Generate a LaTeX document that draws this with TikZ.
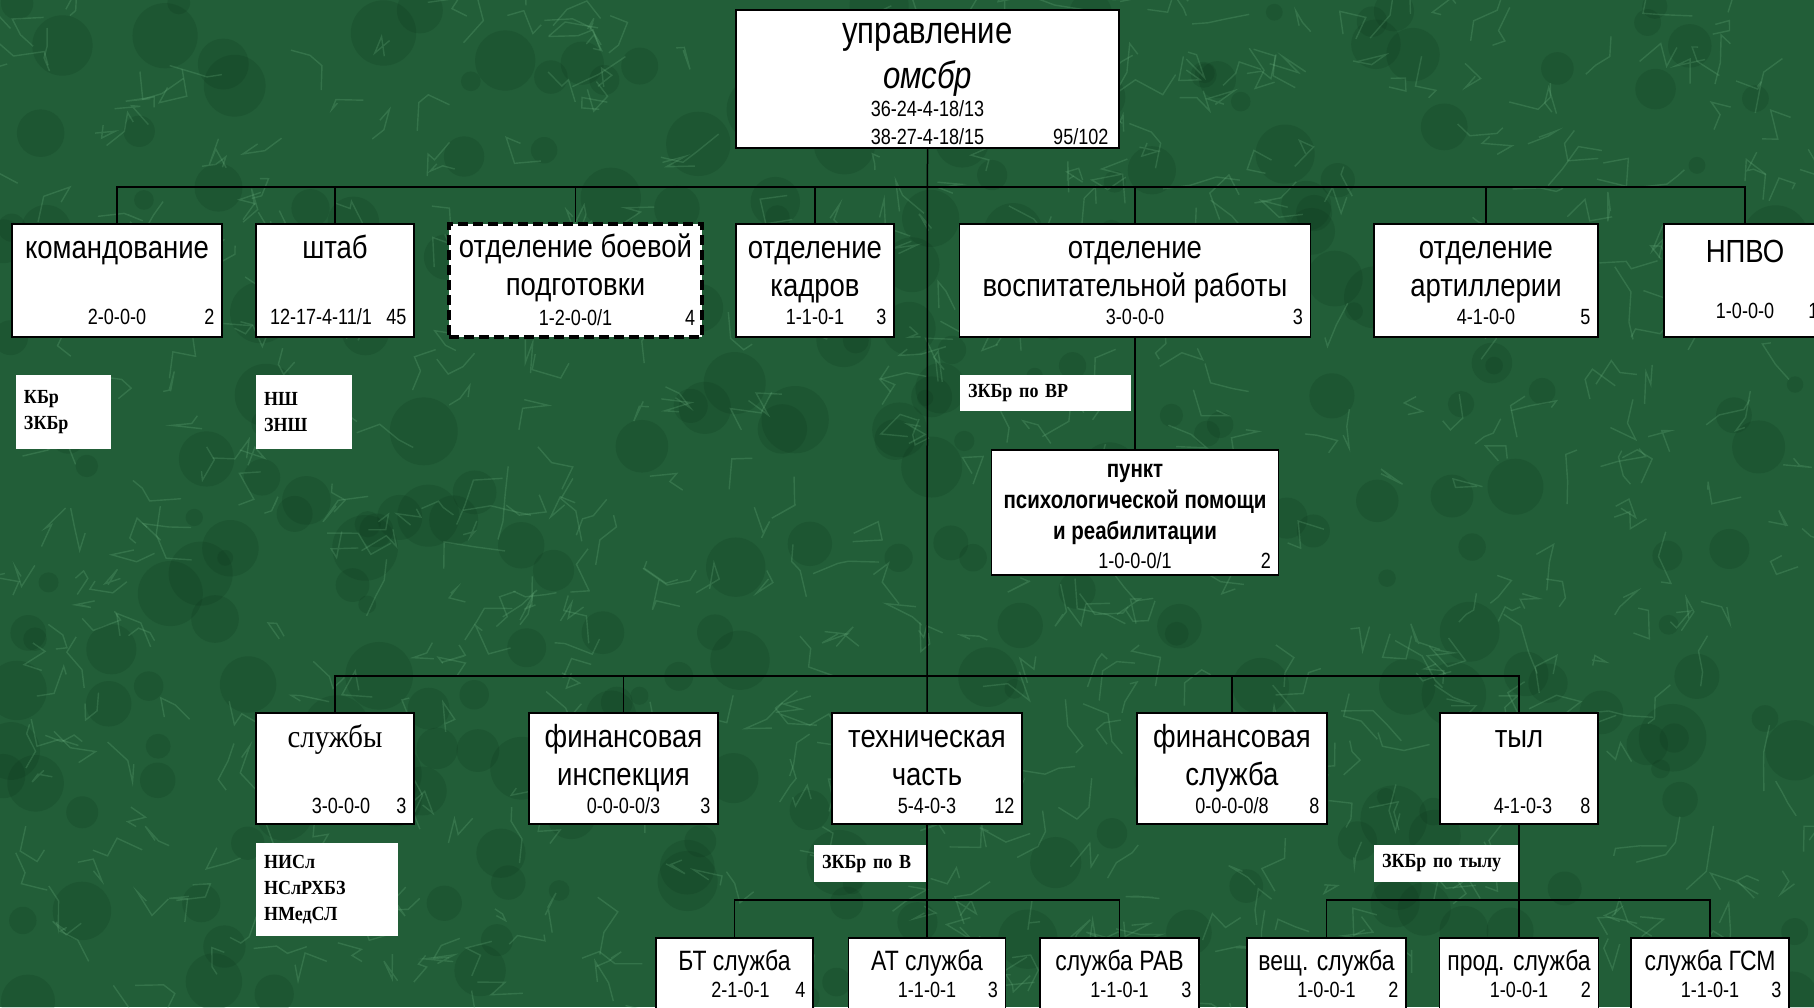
\documentclass[tikz,border=0pt]{standalone}
\usepackage{fontspec}
\setmainfont{Liberation Sans}[FakeStretch=0.82]
\newfontfamily\headfont{Liberation Sans}[FakeStretch=0.86]
\newfontfamily\tagfont{Liberation Serif}[FakeStretch=0.9]

\definecolor{marble}{RGB}{34,94,56}
\definecolor{vein}{RGB}{120,190,140}
\definecolor{dusk}{RGB}{10,48,24}

\tikzset{
  unit/.style={draw, line width=0.8pt, fill=white, inner sep=0pt},
  drill/.style={unit, dashed, line width=1.6pt, dash pattern=on 5pt off 2.5pt},
  ttl/.style={anchor=north, yshift=-3.9pt, inner sep=0pt, align=center,
    font=\headfont\fontsize{16}{19}\selectfont},
  ttlsm/.style={ttl, yshift=-0.5pt, font=\fontsize{14}{17}\selectfont},
  num/.style={anchor=base, yshift=6.5pt, inner sep=0pt, font=\fontsize{11}{13}\selectfont},
  cnt/.style={num, anchor=base east, xshift=-4pt},
  tag/.style={fill=white, inner xsep=4pt, inner ysep=0pt, align=left,
    font=\tagfont\bfseries\fontsize{10}{13}\selectfont},
  link/.style={line width=0.75pt},
}

\begin{document}
\begin{tikzpicture}[x=0.5pt, y=-0.5pt]
\useasboundingbox (0,0) rectangle (1814,1007);
\clip (0,0) rectangle (1814,1007);

% marble background
\fill[marble] (0,0) rectangle (1814,1007);
\pgfmathsetseed{11}
\foreach \i in {1,...,280}
  \fill[dusk, opacity=0.17] (rnd*1814, rnd*1007) circle (8+rnd*26);
\foreach \i in {1,...,620}
  \draw[vein, opacity=0.22, line width=0.7pt] (rnd*1814, rnd*1007)
    -- ++(rnd*360:6+rnd*26) -- ++(rnd*360:6+rnd*26) -- ++(rnd*360:6+rnd*26);

% head
\node[unit, minimum width=191.5pt, minimum height=69pt,
  label={[ttl, font=\fontsize{19}{22.5}\selectfont, yshift=2.7pt]north:\strut управление\\\textit{омсбр}},
  label={[num, yshift=9.5pt]south:36-24-4-18/13},
  label={[num, yshift=-4.5pt]south:38-27-4-18/15},
  label={[cnt, yshift=-4.5pt, xshift=-1.5pt]south east:95/102}] (upr) at (927.5,79) {};

% first row
\node[unit, minimum width=105pt, minimum height=56.5pt,
  label={[ttl]north:\strut командование},
  label={[num]south:2-0-0-0}, label={[cnt]south east:2}] (cmd) at (117,280.5) {};
\node[unit, minimum width=79pt, minimum height=56.5pt,
  label={[ttl]north:\strut штаб},
  label={[num, xshift=-7pt]south:12-17-4-11/1}, label={[cnt]south east:45}] (staff) at (335,280.5) {};
\node[drill, minimum width=126.5pt, minimum height=56.5pt,
  label={[ttl]north:\strut отделение боевой\\подготовки},
  label={[num]south:1-2-0-0/1}, label={[cnt]south east:4}] (train) at (575.5,280.5) {};
\node[unit, minimum width=79pt, minimum height=56.5pt,
  label={[ttl]north:\strut отделение\\кадров},
  label={[num]south:1-1-0-1}, label={[cnt]south east:3}] (pers) at (815,280.5) {};
\node[unit, minimum width=175.5pt, minimum height=56.5pt,
  label={[ttl]north:\strut отделение\\воспитательной работы},
  label={[num]south:3-0-0-0}, label={[cnt]south east:3}] (educ) at (1135,280.5) {};
\node[unit, minimum width=112pt, minimum height=56.5pt,
  label={[ttl]north:\strut отделение\\артиллерии},
  label={[num]south:4-1-0-0}, label={[cnt]south east:5}] (art) at (1486,280.5) {};
\node[unit, minimum width=81pt, minimum height=56.5pt,
  label={[ttl, yshift=-2.3pt]north:\strut НПВО},
  label={[num, yshift=3pt]south:1-0-0-0}, label={[cnt, yshift=3pt]south east:1}] (npvo) at (1745,280.5) {};

\node[tag, minimum height=37pt, text width=39.5pt] (kbr) at (63.5,412) {КБр\\ЗКБр};
\node[tag, minimum height=37pt, text width=40pt] (nsh) at (304,412) {НШ\\ЗНШ};
\node[tag, minimum height=18pt, text width=77.5pt] (zkbrvr) at (1045.5,393) {ЗКБр по ВР};

\node[unit, minimum width=143.5pt, minimum height=62.5pt,
  label={[ttl, font=\bfseries\fontsize{12.5}{15.5}\selectfont, yshift=0.65pt]north:\strut пункт\\психологической помощи\\и реабилитации},
  label={[num, yshift=-3pt]south:1-0-0-0/1}, label={[cnt, yshift=-3pt]south east:2}] (psych) at (1135,512.5) {};

% second row
\node[unit, minimum width=79pt, minimum height=55.5pt,
  label={[ttl, font=\tagfont\fontsize{16}{19}\selectfont]north:\strut службы},
  label={[num, xshift=3pt, yshift=-1pt]south:3-0-0-0}, label={[cnt, yshift=-1pt]south east:3}] (serv) at (335,768.5) {};
\node[unit, minimum width=94.5pt, minimum height=55.5pt,
  label={[ttl]north:\strut финансовая\\инспекция},
  label={[num, yshift=-1pt]south:0-0-0-0/3}, label={[cnt, yshift=-1pt]south east:3}] (finsp) at (623.5,768.5) {};
\node[unit, minimum width=95pt, minimum height=55.5pt,
  label={[ttl]north:\strut техническая\\часть},
  label={[num, yshift=-1pt]south:5-4-0-3}, label={[cnt, yshift=-1pt]south east:12}] (tech) at (927,768.5) {};
\node[unit, minimum width=95pt, minimum height=55.5pt,
  label={[ttl]north:\strut финансовая\\служба},
  label={[num, yshift=-1pt]south:0-0-0-0/8}, label={[cnt, yshift=-1pt]south east:8}] (finsl) at (1232,768.5) {};
\node[unit, minimum width=79pt, minimum height=55.5pt,
  label={[ttl]north:\strut тыл},
  label={[num, xshift=2pt, yshift=-1pt]south:4-1-0-3}, label={[cnt, yshift=-1pt]south east:8}] (rear) at (1519,768.5) {};

\node[tag, minimum height=46.5pt, text width=63pt] (nisl) at (327,889.5) {НИСл\\НСлРХБЗ\\НМедСЛ};
\node[tag, minimum height=18.5pt, text width=48.5pt] (zkbrv) at (870.5,863.5) {ЗКБр по В};
\node[tag, minimum height=18.5pt, text width=64pt] (zkbrrear) at (1446,863.5) {ЗКБр по тылу};

% third row
\node[unit, minimum width=78.5pt, minimum height=36pt,
  label={[ttlsm]north:\strut БТ служба},
  label={[num, xshift=3pt]south:2-1-0-1}, label={[cnt]south east:4}] (bt) at (734.5,974) {};
\node[unit, minimum width=78.5pt, minimum height=36pt,
  label={[ttlsm]north:\strut АТ служба},
  label={[num]south:1-1-0-1}, label={[cnt]south east:3}] (atsl) at (927,974) {};
\node[unit, minimum width=79.5pt, minimum height=36pt,
  label={[ttlsm]north:\strut служба РАВ},
  label={[num]south:1-1-0-1}, label={[cnt]south east:3}] (rav) at (1119.5,974) {};
\node[unit, minimum width=79.5pt, minimum height=36pt,
  label={[ttlsm]north:\strut вещ. служба},
  label={[num]south:1-0-0-1}, label={[cnt]south east:2}] (veshch) at (1326.5,974) {};
\node[unit, minimum width=79.5pt, minimum height=36pt,
  label={[ttlsm]north:\strut прод. служба},
  label={[num]south:1-0-0-1}, label={[cnt]south east:2}] (prod) at (1519,974) {};
\node[unit, minimum width=79pt, minimum height=36pt,
  label={[ttlsm]north:\strut служба ГСМ},
  label={[num]south:1-1-0-1}, label={[cnt]south east:3}] (gsm) at (1710,974) {};

% connectors
\coordinate (bus1) at (927,187);
\coordinate (bus2) at (927,676);
\coordinate (bus3) at (927,900);
\coordinate (bus4) at (1519,900);
\draw[link] (upr.south) -- (tech.north);
\draw[link] (cmd.north) |- (bus1) -| (npvo.north);
\foreach \n in {staff,train,pers,educ,art}
  \draw[link] (\n.north) -- (\n.north |- bus1);
\draw[link] (educ.south) -- (psych.north);
\draw[link] (serv.north) |- (bus2) -| (rear.north);
\foreach \n in {finsp,finsl}
  \draw[link] (\n.north) -- (\n.north |- bus2);
\draw[link] (tech.south) -- (atsl.north);
\draw[link] (bt.north) |- (bus3) -| (rav.north);
\draw[link] (rear.south) -- (prod.north);
\draw[link] (veshch.north) |- (bus4) -| (gsm.north);
\end{tikzpicture}
\end{document}
